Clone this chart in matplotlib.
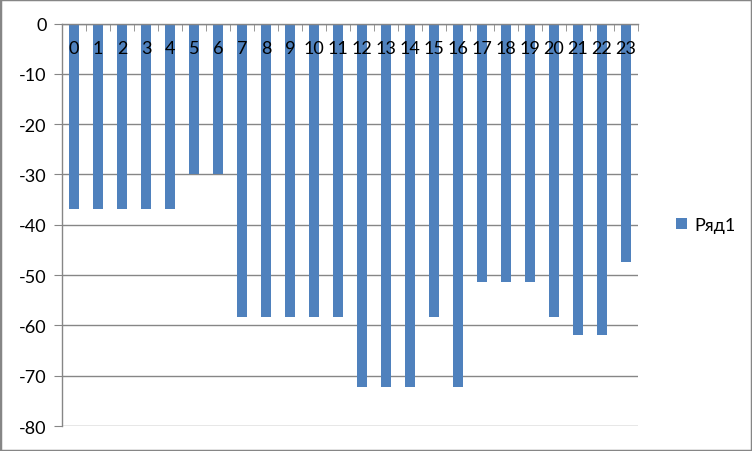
import numpy as np
import matplotlib
matplotlib.use("Agg")
import matplotlib.pyplot as plt
from matplotlib.patches import Rectangle

# Данные
categories = [str(i) for i in range(24)]
values = [-36.9, -36.9, -36.9, -36.9, -36.9, -30.0, -30.0,
          -58.3, -58.3, -58.3, -58.3, -58.3,
          -72.3, -72.3, -72.3, -58.3, -72.3,
          -51.3, -51.3, -51.3, -58.3, -61.9, -61.9, -47.5]
series_name = "Ряд1"
y_ticks = list(range(-80, 1, 10))

plt.rcParams['font.family'] = ['Lato', 'DejaVu Sans']
grey = "#868686"
blue = "#4F81BD"
fs = 13

fig = plt.figure(figsize=(7.52, 4.52), dpi=100)
ax = fig.add_axes([62/752, 1 - 427/452, (638 - 62)/752, (427 - 24.5)/452])

x = np.arange(len(categories))
ax.bar(x, values, width=0.4, color=blue, label=series_name, zorder=3)

ax.set_xlim(-0.5, len(categories) - 0.5)
ax.set_ylim(-80, 0)
ax.set_yticks(y_ticks)
ax.set_yticklabels([str(t) for t in y_ticks], fontsize=fs)
ax.yaxis.grid(True, color=grey, linewidth=1)
ax.set_axisbelow(True)

# ось X сверху (на нуле), подписи под линией, поверх столбцов
ax.xaxis.tick_top()
ax.set_xticks(x)
ax.set_xticklabels(categories, fontsize=fs)
ax.set_xticks(np.arange(-0.5, len(categories), 1), minor=True)
ax.tick_params(axis='x', which='major', length=0, pad=-23.5)
ax.tick_params(axis='x', which='minor', direction='in', length=5, color=grey, top=True, bottom=False)
ax.tick_params(axis='y', direction='out', length=6, color=grey, pad=5)
ax.xaxis.set_zorder(5)

for side in ['right', 'bottom']:
    ax.spines[side].set_visible(False)
for side in ['left', 'top']:
    ax.spines[side].set_color(grey)
    ax.spines[side].set_linewidth(1)
ax.spines['top'].set_zorder(4)

fig.legend(loc='center left', bbox_to_anchor=(660/752, 0.5), frameon=False,
           fontsize=fs, handlelength=0.6, handleheight=0.6, handletextpad=0.4)

fig.patches.append(Rectangle((0, 0), 1, 1, transform=fig.transFigure, fill=False,
                             edgecolor=grey, linewidth=2.5))

plt.savefig("out.png", dpi=100)
